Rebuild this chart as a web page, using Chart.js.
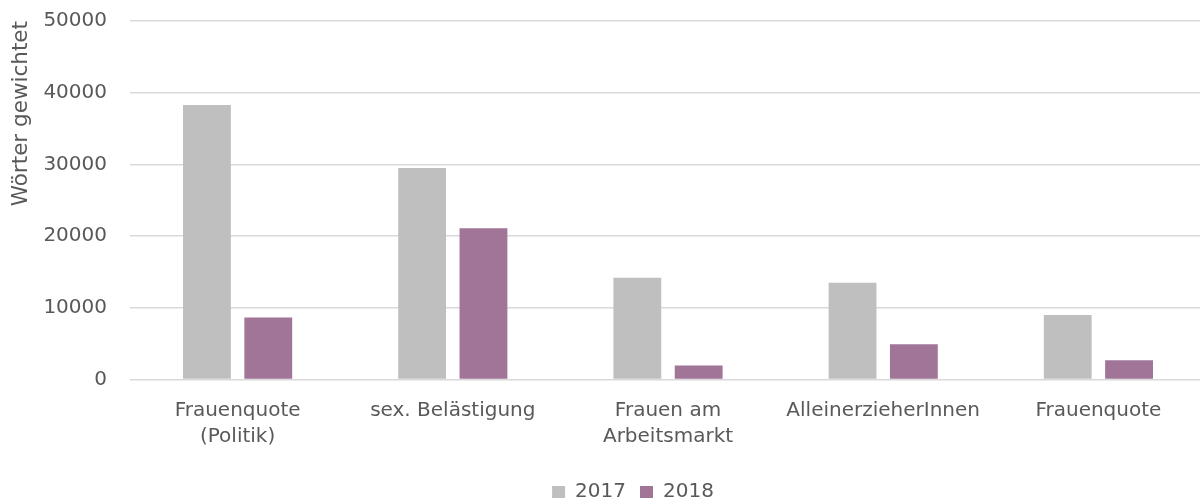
<!DOCTYPE html>
<html>
<head>
<meta charset="utf-8">
<script src="https://cdn.jsdelivr.net/npm/chart.js@4.4.1/dist/chart.umd.min.js"></script>
<style>
  html, body { margin: 0; padding: 0; background: #fff; overflow: hidden; }
  #wrap { position: relative; top: -14px; width: 1206px; height: 517px; }
</style>
</head>
<body>
<div id="wrap"><canvas id="chart"></canvas></div>
<script>
// Topics (x axis), two years of weighted word counts.
const categories = [
  ['Frauenquote', '(Politik)'],
  'sex. Belästigung',
  ['Frauen am', 'Arbeitsmarkt'],
  'AlleinerzieherInnen',
  'Frauenquote',
];
const values2017 = [38300, 29500, 14200, 13500, 9000];
const values2018 = [8650, 21100, 1950, 4900, 2700];
const seriesNames = ['2017', '2018'];
const yTicks = [0, 10000, 20000, 30000, 40000, 50000];

const TEXT = '#595959';
const GRID = '#d9d9d9';
const FONT = 'DejaVu Sans';

// The original legend sits a bit right of the canvas centre (chart was cropped).
const legendShift = {
  id: 'legendShift',
  afterLayout(chart) {
    const lg = chart.legend;
    if (!lg) return;
    lg.left += 30;
    lg.right += 30;
  },
};

new Chart(document.getElementById('chart'), {
  type: 'bar',
  data: {
    labels: categories,
    datasets: [
      { label: seriesNames[0], data: values2017, backgroundColor: '#bfbfbf', borderWidth: 0 },
      { label: seriesNames[1], data: values2018, backgroundColor: '#a07598', borderWidth: 0 },
    ],
  },
  options: {
    responsive: true,
    maintainAspectRatio: false,
    animation: false,
    categoryPercentage: 0.57,
    barPercentage: 0.78,
    layout: { padding: { top: 8, left: 0, right: 0, bottom: -9 } },
    plugins: {
      legend: {
        position: 'bottom',
        labels: {
          color: TEXT,
          boxWidth: 13,
          boxHeight: 12,
          padding: 14,
          font: { family: FONT, size: 20 },
        },
      },
      tooltip: { enabled: false },
    },
    scales: {
      x: {
        grid: { display: false },
        border: { display: false },
        afterFit: (scale) => { scale.height += 8.5; },
        ticks: {
          color: TEXT,
          padding: 10,
          maxRotation: 0,
          autoSkip: false,
          font: { family: FONT, size: 20, lineHeight: 1.3 },
        },
      },
      y: {
        min: 0,
        max: 50000,
        afterBuildTicks: (scale) => { scale.ticks = yTicks.map(v => ({ value: v })); },
        afterFit: (scale) => { scale.width = 130; },
        grid: { color: GRID, lineWidth: 1.5, drawTicks: false },
        border: { display: false },
        ticks: {
          color: TEXT,
          padding: 23,
          font: { family: FONT, size: 20 },
          callback: (v) => String(v),
        },
        title: {
          display: true,
          text: 'Wörter gewichtet',
          align: 'end',
          color: TEXT,
          padding: { top: 9, bottom: 0 },
          font: { family: FONT, size: 21.5 },
        },
      },
    },
  },
  plugins: [legendShift],
});
</script>
</body>
</html>
